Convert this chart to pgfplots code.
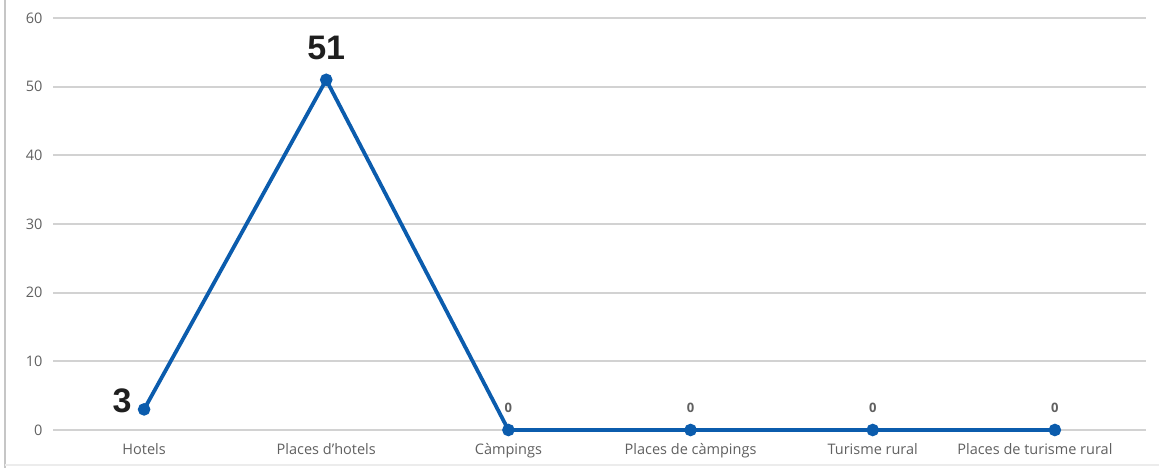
\documentclass[border=0pt]{standalone}
\usepackage{pgfplots}
\pgfplotsset{compat=1.18}
\usepackage{fontspec}
\setmainfont{Open Sans}
\newfontfamily\lab{Liberation Sans}
\definecolor{lineblue}{HTML}{0B5CAD}
\definecolor{gridgray}{HTML}{D2D2D2}
\definecolor{ticktext}{HTML}{606060}
\begin{document}
\begin{tikzpicture}[x=1pt,y=1pt]
\path[use as bounding box] (0,0) rectangle (1159,468);
\begin{axis}[at={(53pt,38pt)}, anchor=south west, scale only axis,
  width=1093pt, height=412pt,
  xmin=-0.5, xmax=5.5, ymin=0, ymax=60,
  ytick={0,10,20,30,40,50,60},
  xtick={0,1,2,3,4,5},
  xticklabels={Hotels, Places d'hotels, Càmpings, Places de càmpings, Turisme rural, \hspace*{-40pt}Places de turisme rural},
  axis line style={draw=none},
  major tick style={draw=none},
  ymajorgrids=true,
  major grid style={gridgray, line width=2pt},
  /pgf/number format/assume math mode=true,
  ticklabel style={font=\fontsize{14.5}{16}\selectfont, text=ticktext},
  yticklabel style={xshift=-7pt},
  xticklabel style={yshift=-10pt},
  clip=false,
]
\addplot[lineblue, line width=3.8pt, mark=*, mark size=4.3pt, mark options={fill=lineblue, draw=lineblue}]
  coordinates {(0,3) (1,51) (2,0) (3,0) (4,0) (5,0)};
\addplot[draw=none, mark=none, nodes near coords, point meta=explicit symbolic,
  nodes near coords style={font=\lab\bfseries\fontsize{34}{34}\selectfont, text=black!88, anchor=base, yshift=20pt}]
  coordinates {(1,51) [51]};
\addplot[draw=none, mark=none, nodes near coords, point meta=explicit symbolic,
  nodes near coords style={font=\lab\bfseries\fontsize{34}{34}\selectfont, text=black!88, anchor=base east, xshift=-9pt, yshift=-3pt}]
  coordinates {(0,3) [3]};
\addplot[draw=none, mark=none, nodes near coords, point meta=explicit symbolic,
  nodes near coords style={font=\bfseries\fontsize{13}{15}\selectfont, text=ticktext, anchor=base, yshift=17pt}]
  coordinates {(2,0) [0] (3,0) [0] (4,0) [0] (5,0) [0]};
\end{axis}
\draw[gray!45, line width=1.5pt] (5,0) -- (5,468);
\draw[gray!15, line width=2pt] (5,3) -- (1159,3);
\end{tikzpicture}
\end{document}
